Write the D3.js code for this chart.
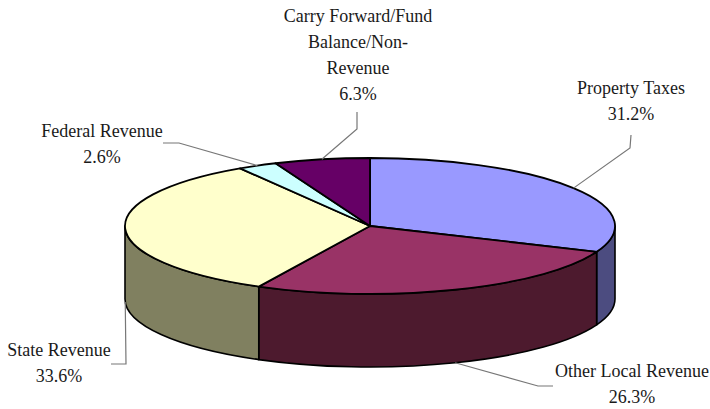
<!DOCTYPE html>
<html>
<head>
<meta charset="utf-8">
<script src="https://cdn.jsdelivr.net/npm/d3@7"></script>
<style>
  html, body { margin: 0; background: #fff; }
  text { font-family: "Liberation Serif", serif; font-size: 18px; fill: #1a1a1a; }
</style>
</head>
<body>
<svg id="chart" width="710" height="409"></svg>
<script>
const categories = ["Property Taxes", "Other Local Revenue", "State Revenue", "Federal Revenue", "Carry Forward/Fund Balance/Non-Revenue"];
const shares = [31.2, 26.3, 33.6, 2.6, 6.3];
const topColors = ["#9999FF", "#993366", "#FFFFCC", "#CCFFFF", "#660066"];
const wallColors = ["#4C4C80", "#4D1A2E", "#808060", "#668080", "#330033"];
const labelLines = [
  ["Property Taxes", "31.2%"],
  ["Other Local Revenue", "26.3%"],
  ["State Revenue", "33.6%"],
  ["Federal Revenue", "2.6%"],
  ["Carry Forward/Fund", "Balance/Non-", "Revenue", "6.3%"]
];

const cx = 370, cy = 226, rx = 245, ry = 68, depth = 73;
const svg = d3.select("#chart");

const arcs = d3.pie().sort(null).value(d => d)(shares);
const pt = (a, dy = 0) => [cx + rx * Math.sin(a), cy - ry * Math.cos(a) + dy];

// Front wall of the disc: only the part of each slice between 90 and 270 degrees shows.
function wallPath(a0, a1) {
  const s = Math.max(a0, Math.PI / 2), e = Math.min(a1, Math.PI * 1.5);
  if (e <= s) return null;
  const [x0, y0] = pt(s), [x1, y1] = pt(e), [x2, y2] = pt(e, depth), [x3, y3] = pt(s, depth);
  return `M${x0},${y0}A${rx},${ry} 0 0 1 ${x1},${y1}L${x2},${y2}A${rx},${ry} 0 0 0 ${x3},${y3}Z`;
}

svg.append("g").selectAll("path")
  .data(arcs.filter(d => wallPath(d.startAngle, d.endAngle)))
  .join("path")
  .attr("d", d => wallPath(d.startAngle, d.endAngle))
  .attr("fill", d => wallColors[d.index])
  .attr("stroke", "#000").attr("stroke-width", 1.6).attr("stroke-linejoin", "round");

// Top face: a flat pie squashed vertically, keeping the outline width constant.
const arcGen = d3.arc().innerRadius(0).outerRadius(rx);
svg.append("g").attr("transform", `translate(${cx},${cy}) scale(1,${ry / rx})`)
  .selectAll("path").data(arcs).join("path")
  .attr("d", arcGen)
  .attr("fill", d => topColors[d.index])
  .attr("stroke", "#000").attr("stroke-width", 1.8)
  .attr("stroke-linejoin", "round")
  .style("vector-effect", "non-scaling-stroke");

// Leader lines, anchored on the rim at each slice's mid angle.
const leaderBends = [
  [[630, 148], [631, 135]],
  [[538, 386], [553, 386]],
  [[126, 364], [111, 364]],
  [[179, 143], [163, 143]],
  [[357, 129], [357, 112]]
];
const leaderLine = d3.line();
svg.append("g").selectAll("path").data(arcs).join("path")
  .attr("d", d => {
    const mid = (d.startAngle + d.endAngle) / 2;
    const front = mid > Math.PI / 2 && mid < Math.PI * 1.5;
    return leaderLine([pt(mid, front ? depth : 0), ...leaderBends[d.index]]);
  })
  .attr("fill", "none").attr("stroke", "#777").attr("stroke-width", 1.2);

const labelAnchors = [[631, 94], [632, 377], [59, 356], [102, 137], [358, 22]];
const lineStep = 26;
svg.append("g").selectAll("text").data(labelLines).join("text")
  .attr("text-anchor", "middle")
  .attr("transform", (d, i) => `translate(${labelAnchors[i][0]},${labelAnchors[i][1]})`)
  .selectAll("tspan").data(d => d).join("tspan")
  .attr("x", 0).attr("y", (d, i) => i * lineStep)
  .text(d => d);
</script>
</body>
</html>
